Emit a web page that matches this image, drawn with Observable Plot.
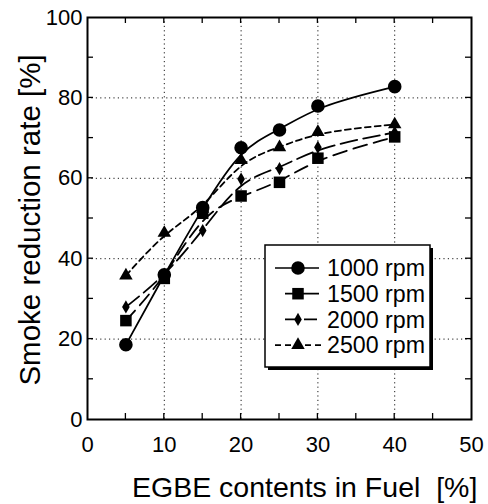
<!DOCTYPE html>
<html><head><meta charset="utf-8">
<script src="https://cdn.jsdelivr.net/npm/d3@7"></script>
<script src="https://cdn.jsdelivr.net/npm/@observablehq/plot@0.6"></script>
<style>body{margin:0;background:#fff} #chart{width:488px;height:504px}</style>
</head><body><div id="chart"></div>
<script>
// ---- data ----
const egbe = [5, 10, 15, 20, 25, 30, 40];
const rpm1000 = [18.6, 36.0, 52.7, 67.6, 72.0, 78.0, 82.8];
const rpm1500 = [24.6, 35.1, 51.3, 55.6, 59.0, 65.0, 70.3];
const rpm2000 = [28.0, 35.6, 47.0, 59.8, 62.4, 67.7, 71.4];
const rpm2500 = [35.8, 46.4, 52.4, 64.5, 67.7, 71.5, 73.4];
const seriesNames = ["1000 rpm", "1500 rpm", "2000 rpm", "2500 rpm"];
const seriesValues = [rpm1000, rpm1500, rpm2000, rpm2500];
const xTicks = [0, 10, 20, 30, 40, 50];
const yTicks = [0, 20, 40, 60, 80, 100];
const xGrid = [10, 20, 30, 40];
const yGrid = [20, 40, 60, 80];
const xMinor = [5, 10, 15, 20, 25, 30, 35, 40, 45];
const yMinor = [10, 20, 30, 40, 50, 60, 70, 80, 90];
const xTitle = "EGBE contents in Fuel\u00a0\u00a0[%]";
const yTitle = "Smoke reduction rate [%]";

const styles = {
  "1000 rpm": {dash: null, symbol: "circle", r: 6.8},
  "1500 rpm": {dash: "14,7", symbol: "square", r: 6.5},
  "2000 rpm": {dash: "17,6", symbol: "diamond", r: 4},
  "2500 rpm": {dash: "6,4", symbol: "triangle", r: 5}
};
const legendDash = {"1000 rpm": null, "1500 rpm": null, "2000 rpm": "13,6", "2500 rpm": "6,4"};

const rows = [];
seriesNames.forEach((name, i) => egbe.forEach((x, j) => rows.push({series: name, x, y: seriesValues[i][j]})));

const marks = [
  Plot.gridX(xGrid, {stroke: "#000", strokeOpacity: 0.9, strokeWidth: 1, strokeDasharray: "1.2,3.2"}),
  Plot.gridY(yGrid, {stroke: "#000", strokeOpacity: 0.9, strokeWidth: 1, strokeDasharray: "1.2,3.2"}),
  Plot.axisX({ticks: xTicks, tickSize: 0, tickPadding: 17, fontSize: 22, label: null}),
  Plot.axisY({ticks: yTicks, tickSize: 0, tickPadding: 5, fontSize: 22, label: null})
];
seriesNames.forEach(name => {
  const s = styles[name];
  const d = rows.filter(r => r.series === name);
  marks.push(Plot.line(d, {x: "x", y: "y", curve: "basis", stroke: "#000", strokeWidth: 1.8, strokeDasharray: s.dash}));
});
seriesNames.forEach(name => {
  const s = styles[name];
  const d = rows.filter(r => r.series === name);
  marks.push(Plot.dot(d, {x: "x", y: "y", symbol: () => s.symbol, r: s.r, fill: "#000", stroke: "none"}));
});
marks.push(Plot.frame({stroke: "#000", strokeWidth: 2}));

const chart = Plot.plot({
  width: 488, height: 504,
  marginTop: 17, marginRight: 17, marginBottom: 85, marginLeft: 87,
  x: {domain: [0, 50]},
  y: {domain: [0, 100]},
  symbol: {type: "identity"},
  style: {fontFamily: "'Liberation Sans', Arial, sans-serif", fontSize: "22px", background: "#fff", color: "#000"},
  marks
});
document.getElementById("chart").appendChild(chart);

// ---- decorations drawn with the plot's own scales ----
const svg = d3.select(chart);
const sx = chart.scale("x"), sy = chart.scale("y");
const x0 = sx.apply(0), x1 = sx.apply(50), y0 = sy.apply(0), y1 = sy.apply(100);
const tk = svg.append("g").attr("stroke", "#000").attr("stroke-width", 1.3);
xMinor.forEach(v => {
  const px = sx.apply(v);
  tk.append("line").attr("x1", px).attr("x2", px).attr("y1", y0).attr("y2", y0 - 6);
  tk.append("line").attr("x1", px).attr("x2", px).attr("y1", y1).attr("y2", y1 + 6);
});
yMinor.forEach(v => {
  const py = sy.apply(v);
  tk.append("line").attr("x1", x0).attr("x2", x0 + 6).attr("y1", py).attr("y2", py);
  tk.append("line").attr("x1", x1).attr("x2", x1 - 6).attr("y1", py).attr("y2", py);
});

// axis titles
svg.append("text").attr("x", 132).attr("y", 497).attr("font-size", 28.5).attr("text-anchor", "start")
  .attr("font-family", "'Liberation Sans', Arial, sans-serif").attr("fill", "#000")
  .text(xTitle);
svg.append("text").attr("transform", "translate(40,220) rotate(-90)").attr("text-anchor", "middle")
  .attr("font-size", 29.5).attr("font-family", "'Liberation Sans', Arial, sans-serif").attr("fill", "#000")
  .text(yTitle);

// legend
const lg = svg.append("g").attr("font-family", "'Liberation Sans', Arial, sans-serif").attr("text-anchor", "start");
const bx = 265, by = 245, bw = 165, bh = 122;
lg.append("rect").attr("x", bx + 3).attr("y", by + 3).attr("width", bw).attr("height", bh).attr("fill", "#000");
lg.append("rect").attr("x", bx).attr("y", by).attr("width", bw).attr("height", bh).attr("fill", "#fff").attr("stroke", "#000").attr("stroke-width", 1.5);
const symMap = {circle: d3.symbolCircle, square: d3.symbolSquare, diamond: d3.symbolDiamond, triangle: d3.symbolTriangle};
seriesNames.forEach((name, i) => {
  const s = styles[name];
  const cy = 268 + i * 25.7;
  const lx1 = name === "1000 rpm" || name === "2500 rpm" ? 275 : 285;
  const lx2 = name === "2500 rpm" ? 325 : 319;
  lg.append("line").attr("x1", lx1).attr("x2", lx2).attr("y1", cy).attr("y2", cy)
    .attr("stroke", "#000").attr("stroke-width", 1.7).attr("stroke-dasharray", legendDash[name]);
  lg.append("path").attr("transform", `translate(298,${cy})`)
    .attr("d", d3.symbol(symMap[s.symbol], Math.PI * s.r * s.r)()).attr("fill", "#000");
  lg.append("text").attr("x", 327).attr("y", cy).attr("dy", "0.36em").attr("font-size", 23.2).attr("text-anchor", "start").attr("fill", "#000").text(name);
});
</script>
</body></html>
